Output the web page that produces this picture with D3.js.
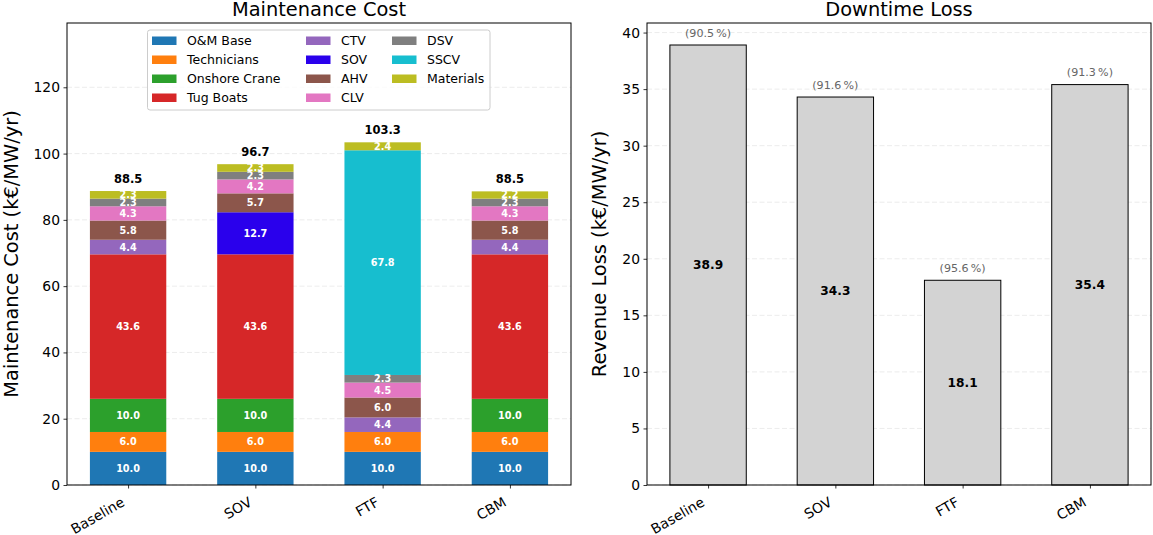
<!DOCTYPE html>
<html>
<head>
<meta charset="utf-8">
<script src="https://cdn.jsdelivr.net/npm/d3@7/dist/d3.min.js"></script>
<style>
html,body{margin:0;padding:0;background:#fff;}
svg{display:block;font-family:"DejaVu Sans",sans-serif;}
</style>
</head>
<body>
<svg id="c" width="1153" height="535"></svg>
<script>
const scenarios = ["Baseline", "SOV", "FTF", "CBM"];
const components = ["O&M Base","Technicians","Onshore Crane","Tug Boats","CTV","SOV","AHV","CLV","DSV","SSCV","Materials"];
const colors = ["#1f77b4","#ff7f0e","#2ca02c","#d62728","#9467bd","#2a00ec","#8c564b","#e377c2","#7f7f7f","#17becf","#bcbd22"];
// values per scenario, in component order
const omBase       = [10.0, 10.0, 10.0, 10.0];
const technicians  = [6.0, 6.0, 6.0, 6.0];
const onshoreCrane = [10.0, 10.0, 0, 10.0];
const tugBoats     = [43.6, 43.6, 0, 43.6];
const ctv          = [4.4, 0, 4.4, 4.4];
const sov          = [0, 12.7, 0, 0];
const ahv          = [5.8, 5.7, 6.0, 5.8];
const clv          = [4.3, 4.2, 4.5, 4.3];
const dsv          = [2.3, 2.3, 2.3, 2.3];
const sscv         = [0, 0, 67.8, 0];
const materials    = [2.3, 2.3, 2.4, 2.2];
const totals       = [88.5, 96.7, 103.3, 88.5];
const downtime     = [38.9, 34.3, 18.1, 35.4];
const availability = [90.5, 91.6, 95.6, 91.3];
const costTicks = [0,20,40,60,80,100,120];
const lossTicks = [0,5,10,15,20,25,30,35,40];

const series = [omBase,technicians,onshoreCrane,tugBoats,ctv,sov,ahv,clv,dsv,sscv,materials];
const table = scenarios.map((s,i)=>{const o={scenario:s,idx:i}; components.forEach((c,j)=>o[c]=series[j][i]); return o;});

const svg = d3.select("#c");
const plotTop = 23, plotBottom = 485;

function panel(x0, x1, ymax, ticks, title, ylabel, labelOffset){
  const x = d3.scaleLinear().domain([-0.48, 3.48]).range([x0, x1]);
  const y = d3.scaleLinear().domain([0, ymax]).range([plotBottom, plotTop]);
  const g = svg.append("g");
  // grid
  g.append("g").selectAll("line").data(ticks).join("line")
    .attr("x1", x0).attr("x2", x1).attr("y1", d=>y(d)).attr("y2", d=>y(d))
    .attr("stroke", "#b0b0b0").attr("stroke-opacity", 0.3).attr("stroke-dasharray", "5,2.5").attr("stroke-width", 0.8);
  const marks = g.append("g");
  // axes
  const ya = g.append("g").attr("transform", `translate(${x0},0)`)
    .call(d3.axisLeft(y).tickValues(ticks).tickSize(3.5).tickPadding(3.5).tickFormat(d3.format("d")));
  const xa = g.append("g").attr("transform", `translate(0,${plotBottom})`)
    .call(d3.axisBottom(x).tickValues([0,1,2,3]).tickSize(3.5).tickFormat(i=>scenarios[i]));
  [ya, xa].forEach(a=>{a.select(".domain").remove(); a.selectAll("line").attr("stroke","#000").attr("stroke-width",0.8);
    a.selectAll("text").attr("font-size","13.9px").attr("fill","#000").attr("font-family","DejaVu Sans");});
  xa.selectAll("text").attr("text-anchor","end").attr("dy",null).attr("y",null)
    .attr("transform","translate(-3,20) rotate(-30)");
  // frame
  g.append("rect").attr("x", x0).attr("y", plotTop).attr("width", x1-x0).attr("height", plotBottom-plotTop)
    .attr("fill","none").attr("stroke","#000").attr("stroke-width",1);
  g.append("text").attr("x",(x0+x1)/2).attr("y",15.5).attr("text-anchor","middle")
    .attr("font-size","19.4px").text(title);
  g.append("text").attr("transform",`translate(${x0-labelOffset},${(plotTop+plotBottom)/2}) rotate(-90)`)
    .attr("text-anchor","middle").attr("font-size","19.4px").text(ylabel);
  return {x,y,marks};
}

// Left panel
const L = panel(67, 571, 139.4, costTicks, "Maintenance Cost", "Maintenance Cost (k€/MW/yr)", 49);
const stack = d3.stack().keys(components)(table);
const bw = L.x(0.3) - L.x(0);
stack.forEach((layer, j)=>{
  const gg = L.marks.append("g");
  gg.selectAll("rect").data(layer.filter(d=>d[1]-d[0]>0)).join("rect")
    .attr("x", d=>L.x(d.data.idx)-bw).attr("width", 2*bw)
    .attr("y", d=>L.y(d[1])).attr("height", d=>L.y(d[0])-L.y(d[1]))
    .attr("fill", colors[j]);
});
stack.forEach((layer)=>{
  L.marks.append("g").selectAll("text").data(layer.filter(d=>d[1]-d[0]>0)).join("text")
    .attr("x", d=>L.x(d.data.idx)).attr("y", d=>L.y((d[0]+d[1])/2))
    .attr("dy","0.36em").attr("text-anchor","middle").attr("fill","#fff").attr("font-weight","bold")
    .attr("font-size","9.7px").text(d=>(d[1]-d[0]).toFixed(1));
});
L.marks.append("g").selectAll("text").data(totals).join("text")
  .attr("x",(d,i)=>L.x(i)).attr("y",(d,i)=>L.y(d3.sum(series, s=>s[i])+1.5)-3)
  .attr("text-anchor","middle").attr("font-weight","bold").attr("font-size","11.5px").text(d=>d.toFixed(1));

// Legend
const lg = svg.append("g");
lg.append("rect").attr("x",147.5).attr("y",30).attr("width",342.5).attr("height",80).attr("rx",2.5)
  .attr("fill","#fff").attr("fill-opacity",0.8).attr("stroke","#cccccc").attr("stroke-width",1);
const colX = [152, 306, 392];
components.forEach((c,j)=>{
  const col = Math.floor(j/4), row = j%4;
  const yy = 40.7 + row*19;
  lg.append("rect").attr("x",colX[col]).attr("y",yy-4.2).attr("width",24.5).attr("height",8.5).attr("fill",colors[j]);
  lg.append("text").attr("x",colX[col]+35).attr("y",yy).attr("dy","0.36em").attr("font-size","12.5px").text(c);
});

// Right panel
const R = panel(647, 1151, 40.845, lossTicks, "Downtime Loss", "Revenue Loss (k€/MW/yr)", 41);
const bw2 = R.x(0.3) - R.x(0);
R.marks.selectAll("rect").data(downtime).join("rect")
  .attr("x",(d,i)=>R.x(i)-bw2).attr("width",2*bw2)
  .attr("y",d=>R.y(d)).attr("height",d=>R.y(0)-R.y(d))
  .attr("fill","#d3d3d3").attr("stroke","#000").attr("stroke-width",1);
R.marks.append("g").selectAll("text").data(downtime).join("text")
  .attr("x",(d,i)=>R.x(i)).attr("y",d=>R.y(d/2)).attr("dy","0.36em")
  .attr("text-anchor","middle").attr("font-weight","bold").attr("font-size","12.2px").text(d=>d.toFixed(1));
R.marks.append("g").selectAll("text").data(availability).join("text")
  .attr("x",(d,i)=>R.x(i)).attr("y",(d,i)=>R.y(downtime[i]+0.5)-2.5)
  .attr("text-anchor","middle").attr("fill","#666").attr("font-size","11.1px")
  .text(d=>"(" + d.toFixed(1) + "\u2009%)");
</script>
</body>
</html>
